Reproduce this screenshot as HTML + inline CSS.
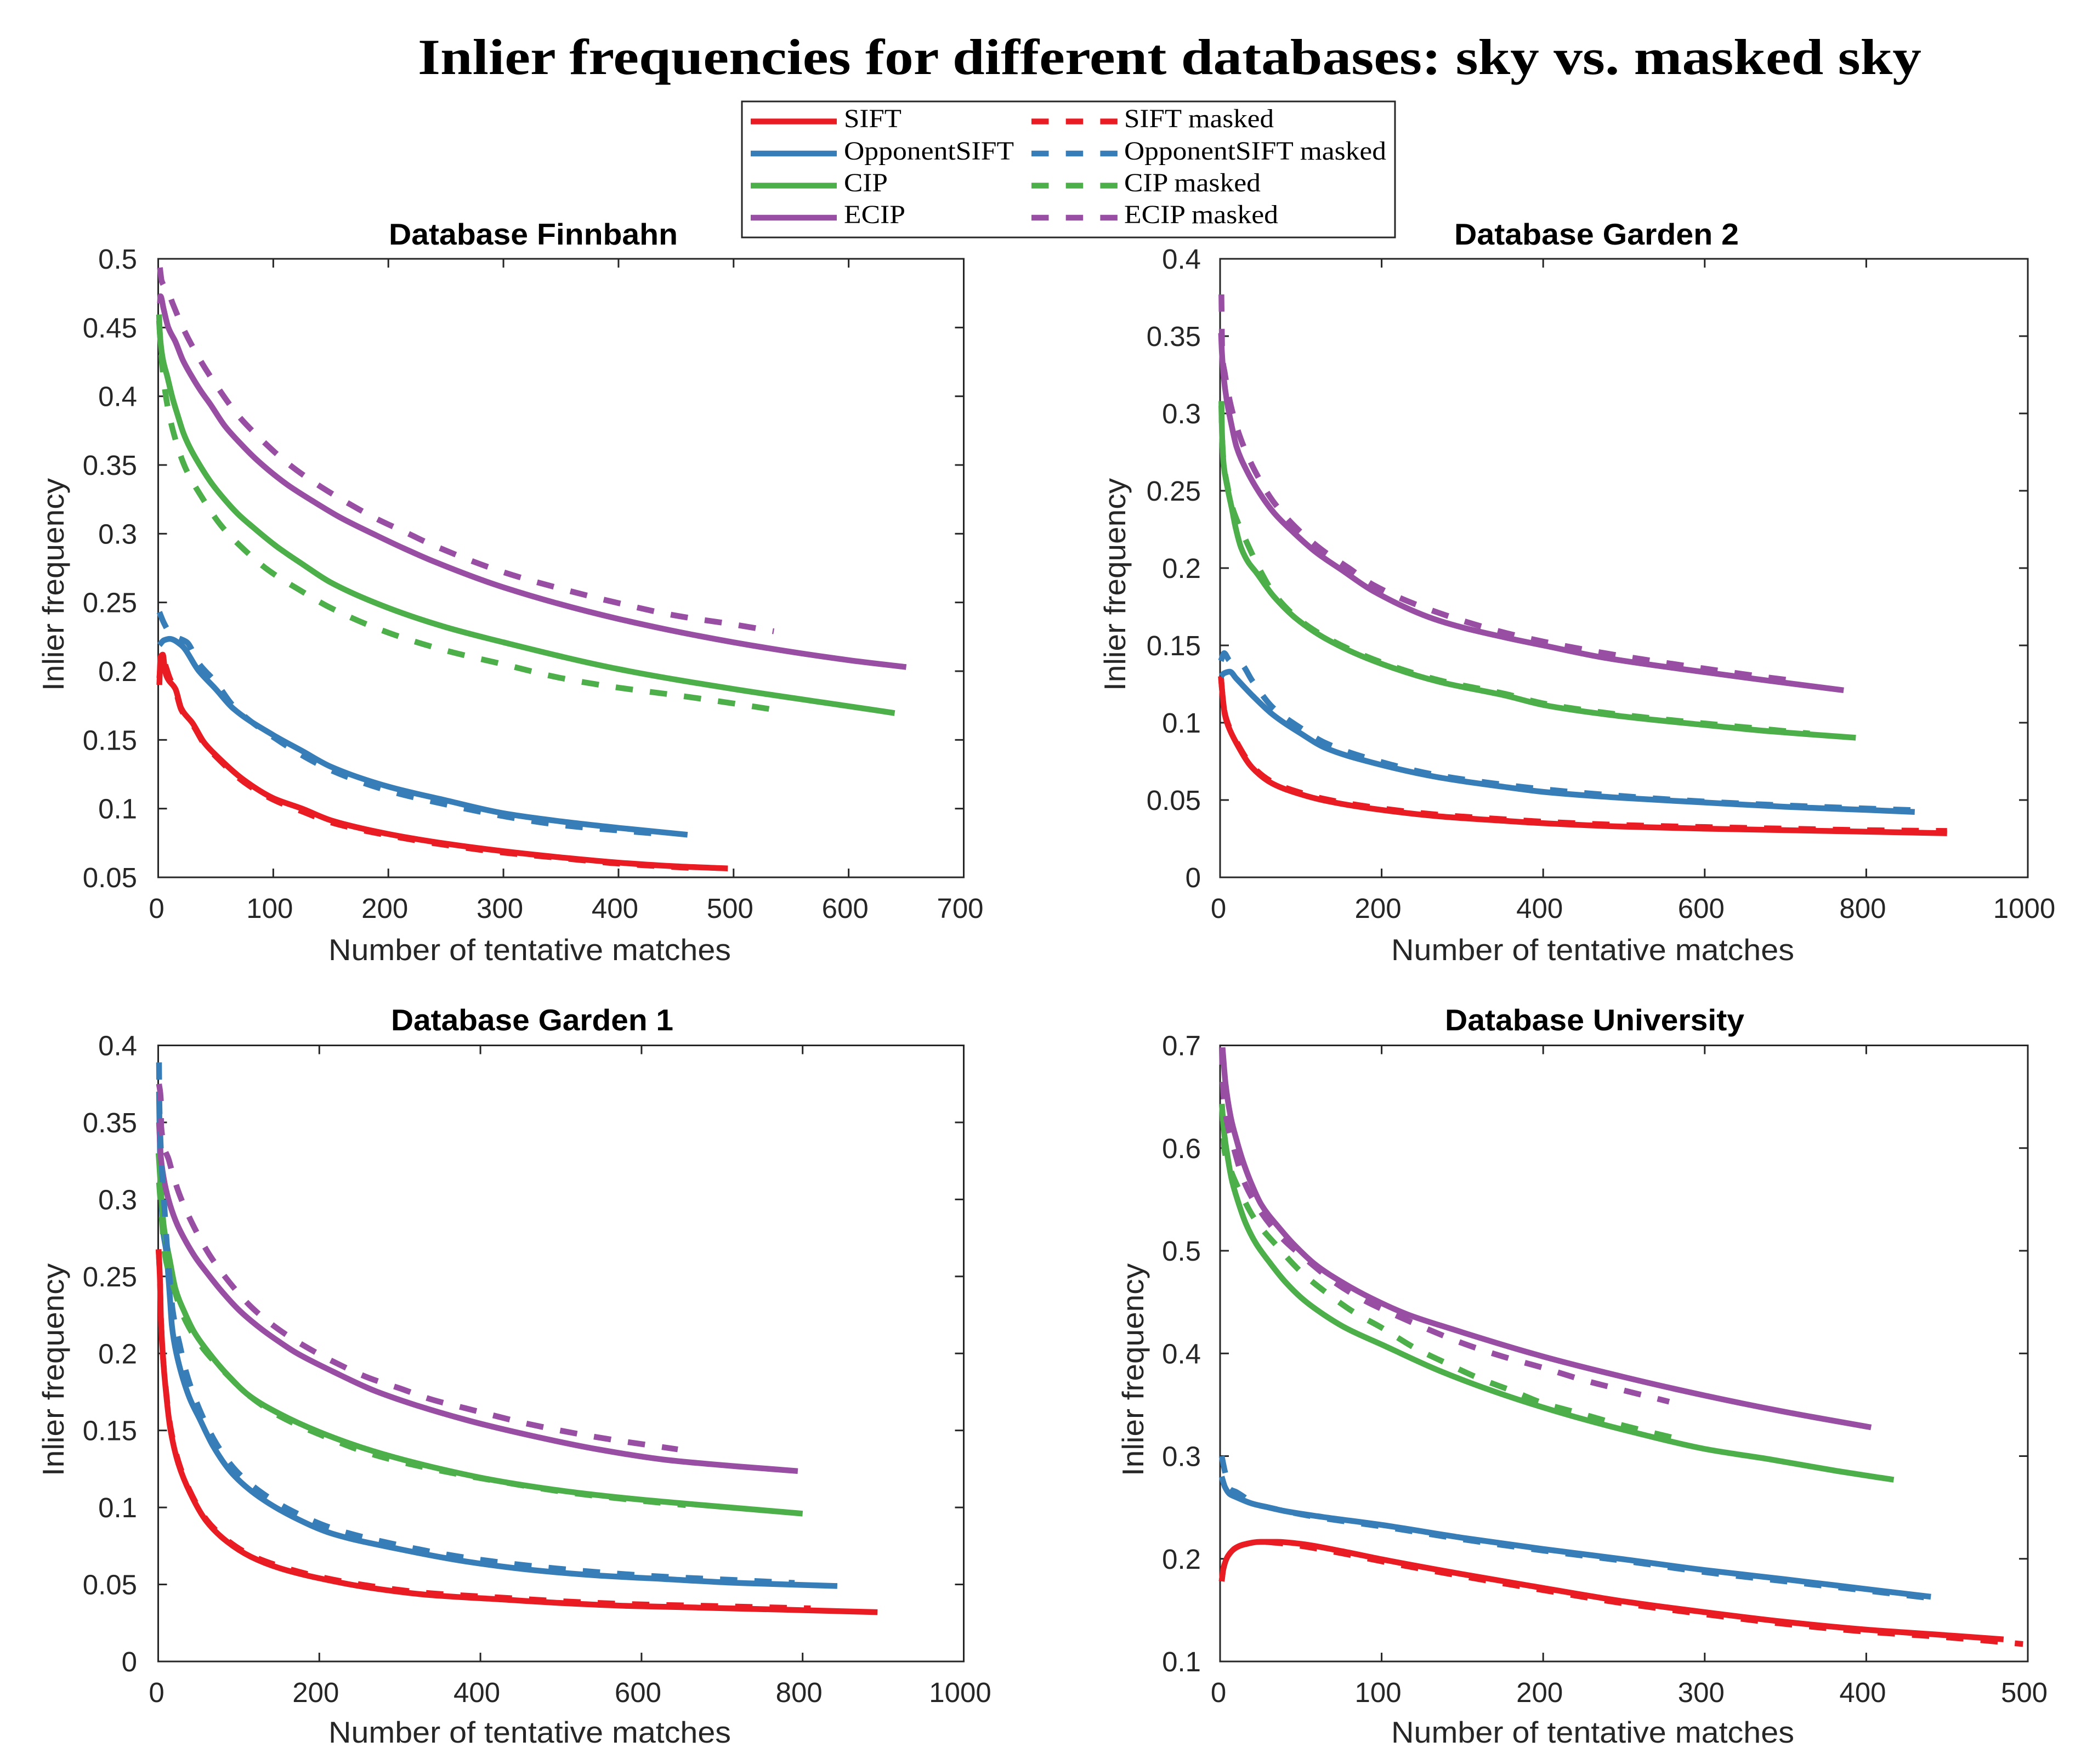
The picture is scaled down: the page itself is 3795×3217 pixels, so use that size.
<!DOCTYPE html>
<html>
<head>
<meta charset="utf-8">
<title>Inlier frequencies for different databases</title>
<style>
html,body{margin:0;padding:0;background:#fff;}
svg{display:block;}
.lab{font-family:"Liberation Sans",sans-serif;font-size:55px;fill:#262626;}
.ttl{font-family:"Liberation Sans",sans-serif;font-size:55px;font-weight:bold;fill:#000;}
.tick{font-family:"Liberation Sans",sans-serif;font-size:51px;fill:#262626;}
.leg{font-family:"Liberation Serif",serif;font-size:48px;fill:#000;}
</style>
</head>
<body>
<svg id="figure" xmlns="http://www.w3.org/2000/svg" width="3795" height="3217" viewBox="0 0 3795 3217">
<rect x="0" y="0" width="3795" height="3217" fill="#ffffff"/>
<text x="762" y="135" textLength="2742" lengthAdjust="spacingAndGlyphs" style="font-family:'Liberation Serif',serif;font-weight:bold;font-size:92px;fill:#000">Inlier frequencies for different databases: sky vs. masked sky</text>

<g>
<text class="ttl" x="709" y="446" textLength="527" lengthAdjust="spacingAndGlyphs">Database Finnbahn</text>
<text class="lab" x="599" y="1751" textLength="734" lengthAdjust="spacingAndGlyphs">Number of tentative matches</text>
<text class="lab" transform="translate(116,1260) rotate(-90)" textLength="388" lengthAdjust="spacingAndGlyphs">Inlier frequency</text>
</g>
<g>
<text class="ttl" x="2652" y="446" textLength="519" lengthAdjust="spacingAndGlyphs">Database Garden 2</text>
<text class="lab" x="2537" y="1751" textLength="735" lengthAdjust="spacingAndGlyphs">Number of tentative matches</text>
<text class="lab" transform="translate(2052,1260) rotate(-90)" textLength="388" lengthAdjust="spacingAndGlyphs">Inlier frequency</text>
</g>
<g>
<text class="ttl" x="713" y="1879" textLength="515" lengthAdjust="spacingAndGlyphs">Database Garden 1</text>
<text class="lab" x="599" y="3178" textLength="734" lengthAdjust="spacingAndGlyphs">Number of tentative matches</text>
<text class="lab" transform="translate(116,2692) rotate(-90)" textLength="388" lengthAdjust="spacingAndGlyphs">Inlier frequency</text>
</g>
<g>
<text class="ttl" x="2635" y="1879" textLength="546" lengthAdjust="spacingAndGlyphs">Database University</text>
<text class="lab" x="2537" y="3178" textLength="735" lengthAdjust="spacingAndGlyphs">Number of tentative matches</text>
<text class="lab" transform="translate(2085,2692) rotate(-90)" textLength="388" lengthAdjust="spacingAndGlyphs">Inlier frequency</text>
</g>

<g id="plots"></g>

<g>
<rect x="1353" y="185" width="1191" height="248" fill="#ffffff" stroke="#262626" stroke-width="3"/>
<line x1="1369" x2="1526" y1="221.5" y2="221.5" stroke="#e81c22" stroke-width="10.5"/>
<line x1="1369" x2="1526" y1="280" y2="280" stroke="#377eb8" stroke-width="10.5"/>
<line x1="1369" x2="1526" y1="338.5" y2="338.5" stroke="#4daf4a" stroke-width="10.5"/>
<line x1="1369" x2="1526" y1="397" y2="397" stroke="#984ea3" stroke-width="10.5"/>
<line x1="1881" x2="2038" y1="221.5" y2="221.5" stroke="#e81c22" stroke-width="10.5" stroke-dasharray="31.5 31.2"/>
<line x1="1881" x2="2038" y1="280" y2="280" stroke="#377eb8" stroke-width="10.5" stroke-dasharray="31.5 31.2"/>
<line x1="1881" x2="2038" y1="338.5" y2="338.5" stroke="#4daf4a" stroke-width="10.5" stroke-dasharray="31.5 31.2"/>
<line x1="1881" x2="2038" y1="397" y2="397" stroke="#984ea3" stroke-width="10.5" stroke-dasharray="31.5 31.2"/>
<text class="leg" x="1539" y="232" textLength="105" lengthAdjust="spacingAndGlyphs">SIFT</text>
<text class="leg" x="1539" y="291" textLength="310" lengthAdjust="spacingAndGlyphs">OpponentSIFT</text>
<text class="leg" x="1539" y="349" textLength="80" lengthAdjust="spacingAndGlyphs">CIP</text>
<text class="leg" x="1539" y="407" textLength="112" lengthAdjust="spacingAndGlyphs">ECIP</text>
<text class="leg" x="2050" y="232" textLength="273" lengthAdjust="spacingAndGlyphs">SIFT masked</text>
<text class="leg" x="2050" y="291" textLength="478" lengthAdjust="spacingAndGlyphs">OpponentSIFT masked</text>
<text class="leg" x="2050" y="349" textLength="249" lengthAdjust="spacingAndGlyphs">CIP masked</text>
<text class="leg" x="2050" y="407" textLength="281" lengthAdjust="spacingAndGlyphs">ECIP masked</text>
</g>
</svg>

<script>
// ---------- Finnbahn ----------
const finnXTicks = [0,100,200,300,400,500,600,700];
const finnYTicks = [0.05,0.1,0.15,0.2,0.25,0.3,0.35,0.4,0.45,0.5];
const finnSiftX = [1,2,4,6,8,15,20,30,40,50,75,100,125,150,200,250,300,350,400,450,495];
const finnSiftY = [0.19,0.21,0.212,0.2,0.195,0.187,0.173,0.162,0.148,0.139,0.1205,0.1076,0.1,0.0915,0.0815,0.0745,0.069,0.0645,0.0607,0.058,0.0565];
const finnOppX = [1,5,10,20,35,50,65,100,125,150,200,250,300,350,400,460];
const finnOppY = [0.219,0.2225,0.2235,0.219,0.2005,0.187,0.173,0.1535,0.142,0.1305,0.116,0.106,0.0966,0.0907,0.086,0.081];
const finnCipX = [0.7,1.5,3.9,7.9,12.6,17.4,22,27.7,35.7,46,54.7,69,81.7,102,126,150,200,250,300,400,500,600,640];
const finnCipY = [0.4595,0.4449,0.4276,0.4143,0.3983,0.385,0.373,0.3624,0.3505,0.3372,0.3279,0.3146,0.3052,0.2913,0.2775,0.2645,0.246,0.232,0.221,0.2015,0.187,0.1745,0.1695];
const finnEcipX = [1.5,2,4.7,8.7,15,21.4,29.3,37.2,45.2,57.9,70.6,86.5,112,134,158,190,213.6,239,300,400,500,600,650];
const finnEcipY = [0.4675,0.4728,0.4635,0.4502,0.4396,0.4263,0.4143,0.4037,0.3943,0.3784,0.3664,0.3531,0.3358,0.3239,0.3119,0.2986,0.2893,0.28,0.261,0.238,0.221,0.208,0.203];
const finnSiftMX = [1,3,6,10,15,20,30,40,50,75,100,125,150,200,250,300,350,400,470];
const finnSiftMY = [0.195,0.212,0.205,0.195,0.186,0.172,0.161,0.147,0.138,0.119,0.1065,0.098,0.09,0.0805,0.0735,0.068,0.064,0.06,0.0565];
const finnOppMX = [1,5,10,15,25,35,50,65,100,150,200,250,300,350,430];
const finnOppMY = [0.243,0.235,0.228,0.225,0.221,0.206,0.192,0.175,0.152,0.128,0.113,0.103,0.0945,0.088,0.082];
const finnCipMX = [0.7,3.6,7.5,13.9,23.7,38,54.7,75.4,96,125,150,200,250,300,350,400,450,500,535];
const finnCipMY = [0.455,0.421,0.3957,0.3717,0.3478,0.3265,0.3059,0.2879,0.2733,0.258,0.246,0.228,0.215,0.205,0.195,0.188,0.1825,0.1765,0.172];
const finnEcipMX = [1.5,3,8.7,12.6,22,35.6,52.3,69.8,90.5,112.7,137,163,189,216,236.5,300,350,400,450,500,535];
const finnEcipMY = [0.4936,0.484,0.4761,0.4675,0.4489,0.4276,0.4057,0.3857,0.3678,0.3511,0.3365,0.3232,0.3112,0.3006,0.2925,0.272,0.26,0.2495,0.2404,0.234,0.229];

// ---------- Garden 2 ----------
const g2XTicks = [0,200,400,600,800,1000];
const g2YTicks = [0,0.05,0.1,0.15,0.2,0.25,0.3,0.35,0.4];
const g2SiftX = [1,3,6,10,20,40,65,100,130,190,270,350,400,500,600,700,800,900];
const g2SiftY = [0.13,0.118,0.105,0.098,0.087,0.0708,0.0606,0.0537,0.0496,0.0443,0.0395,0.0366,0.035,0.0328,0.0315,0.0305,0.0295,0.0285];
const g2OppX = [1,5,12,20,40,65,100,130,190,270,350,400,500,600,700,800,860];
const g2OppY = [0.13,0.132,0.133,0.1286,0.1176,0.1054,0.093,0.0838,0.074,0.0647,0.0586,0.0553,0.0513,0.0484,0.0456,0.0436,0.0423];
const g2CipX = [1.6,2.3,4.5,9,14.7,19.2,26,35,44,66,95,132,190,271,354,400,476,600,682,787];
const g2CipY = [0.308,0.288,0.2666,0.2523,0.2381,0.2262,0.2132,0.2037,0.1977,0.182,0.167,0.154,0.14,0.1265,0.1175,0.1115,0.1055,0.0985,0.0944,0.0903];
const g2EcipX = [1.2,2.3,4.5,8,13.6,20.4,33,48.6,66.8,91.6,118.8,150,190,271,354,400,476,600,682,772];
const g2EcipY = [0.352,0.339,0.3236,0.3093,0.294,0.2784,0.263,0.2488,0.2357,0.2227,0.2102,0.199,0.185,0.166,0.155,0.15,0.142,0.1327,0.127,0.121];
const g2SiftMX = [1,3,6,10,20,40,65,100,130,190,270,350,400,500,600,700,800,900];
const g2SiftMY = [0.13,0.118,0.106,0.099,0.088,0.0718,0.0616,0.0547,0.0506,0.0453,0.0405,0.0376,0.036,0.0338,0.0325,0.0315,0.0305,0.03];
const g2OppMX = [1,5,12,25,40,65,100,130,190,270,350,400,500,600,700,800,855];
const g2OppMY = [0.14,0.145,0.14,0.1385,0.127,0.11,0.0965,0.087,0.076,0.066,0.06,0.057,0.0525,0.049,0.0465,0.0445,0.0435];
const g2CipMX = [1.6,2.3,4.5,9,14.7,20.4,34,48.6,66,95,132,190,271,354,400,476,600,682,730];
const g2CipMY = [0.305,0.288,0.268,0.2535,0.24,0.2316,0.2155,0.1995,0.184,0.168,0.155,0.141,0.1275,0.1185,0.1125,0.1065,0.0995,0.0955,0.093];
const g2EcipMX = [1.6,2.7,5.7,13.6,26,43,64.5,92.8,125.6,159.5,190,271,354,400,476,600,682,720];
const g2EcipMY = [0.377,0.338,0.3265,0.3046,0.283,0.263,0.244,0.2268,0.212,0.2,0.189,0.171,0.158,0.1525,0.145,0.135,0.129,0.1265];

// ---------- Garden 1 ----------
const g1XTicks = [0,200,400,600,800,1000];
const g1YTicks = [0,0.05,0.1,0.15,0.2,0.25,0.3,0.35,0.4];
const g1SiftX = [0.5,2.2,3.3,5.6,8,15,25,40,60,85,115,150,200,266,340,422,505,587,670,800,893];
const g1SiftY = [0.2676,0.248,0.224,0.2005,0.184,0.1514,0.1285,0.109,0.091,0.078,0.068,0.0607,0.054,0.0476,0.043,0.0404,0.0378,0.036,0.035,0.0333,0.032];
const g1OppX = [1,2.2,4,6,10,14.6,17,22.6,39,51,68,92,125,167,216,299,381,464,546,629,711,843];
const g1OppY = [0.37,0.331,0.3,0.28,0.266,0.236,0.218,0.2,0.171,0.158,0.14,0.122,0.107,0.094,0.083,0.073,0.065,0.0594,0.0558,0.0535,0.0512,0.049];
const g1CipX = [0.5,3.3,6.7,14.6,21.4,32.8,45,64.6,84,113,150,200,266,340,422,505,587,670,800];
const g1CipY = [0.33,0.307,0.2836,0.26,0.242,0.2266,0.2136,0.1993,0.1873,0.1726,0.161,0.149,0.1367,0.1263,0.1172,0.1106,0.1057,0.1018,0.096];
const g1EcipX = [1,3.3,7.8,14.6,23.7,34,46.4,60,78,101,128,155,171,216,270,381,464,546,629,711,794];
const g1EcipY = [0.35,0.3275,0.311,0.2967,0.2836,0.273,0.2622,0.2527,0.2409,0.2278,0.2159,0.2059,0.2005,0.1885,0.1755,0.157,0.1465,0.1377,0.131,0.127,0.1236];
const g1SiftMX = [0.5,2.2,3.3,5.6,8,15,25,40,60,85,115,150,200,266,340,422,505,587,670,810];
const g1SiftMY = [0.2676,0.248,0.224,0.2005,0.185,0.153,0.13,0.11,0.092,0.079,0.069,0.062,0.055,0.0488,0.0442,0.0416,0.039,0.0372,0.0362,0.0345];
const g1OppMX = [1,1.5,2.8,5,7.8,10.6,14.6,18,27,35,51,72,97,130,167,216,299,381,464,546,629,711,790];
const g1OppMY = [0.389,0.362,0.339,0.316,0.294,0.272,0.247,0.228,0.205,0.1873,0.164,0.1416,0.1237,0.109,0.0975,0.0865,0.0755,0.0675,0.062,0.058,0.055,0.053,0.051];
const g1CipMX = [1,4.4,7.8,18,31.7,53,84,113,150,200,266,340,422,505,587,655];
const g1CipMY = [0.311,0.288,0.2658,0.245,0.2237,0.205,0.187,0.1725,0.1595,0.1475,0.1345,0.125,0.117,0.11,0.105,0.1015];
const g1EcipMX = [1,3.3,3.7,13.5,26,42.5,63,88.4,116.7,150,186,220,262,299,340,381,464,546,645];
const g1EcipMY = [0.375,0.3643,0.3477,0.3252,0.3038,0.2842,0.2646,0.2462,0.2296,0.2154,0.2035,0.194,0.184,0.1775,0.17,0.1645,0.1537,0.1455,0.1377];

// ---------- University ----------
const uniXTicks = [0,100,200,300,400,500];
const uniYTicks = [0.1,0.2,0.3,0.4,0.5,0.6,0.7];
const uniSiftX = [1,2,5,10,15,25,35,50,75,100,150,200,250,300,350,400,450,485];
const uniSiftY = [0.178,0.19,0.203,0.211,0.214,0.2165,0.2165,0.2145,0.2075,0.1995,0.185,0.1715,0.1585,0.148,0.1385,0.131,0.1255,0.1215];
const uniOppX = [1,3,6,10,20,30,40,60,100,150,200,250,300,350,400,440];
const uniOppY = [0.28,0.27,0.263,0.26,0.2537,0.25,0.2465,0.2415,0.233,0.2205,0.2095,0.1995,0.189,0.18,0.1705,0.163];
const uniCipX = [1.1,2.3,4.5,7.4,10.7,15.8,22,30,40.2,51.5,64,77.5,101,136,177,218,259,300,341,382,417];
const uniCipY = [0.643,0.618,0.593,0.568,0.55,0.527,0.5077,0.49,0.47,0.4525,0.438,0.425,0.408,0.383,0.359,0.339,0.322,0.307,0.2967,0.2855,0.277];
const uniEcipX = [1.5,3.4,6.8,10,14,18.7,25.5,36.8,45.8,59.4,76.4,93.3,116,143,200,250,300,350,403];
const uniEcipY = [0.698,0.6625,0.6287,0.609,0.588,0.568,0.545,0.522,0.506,0.486,0.4685,0.454,0.438,0.424,0.397,0.377,0.359,0.343,0.328];
const uniSiftMX = [1,2,5,10,15,25,35,50,75,100,150,200,250,300,350,400,450,497];
const uniSiftMY = [0.178,0.19,0.203,0.211,0.214,0.2165,0.2155,0.2125,0.2055,0.1975,0.183,0.1695,0.1565,0.146,0.1365,0.129,0.1235,0.117];
const uniOppMX = [1,3,6,10,15,20,30,60,100,150,200,250,300,350,400,438];
const uniOppMY = [0.3,0.285,0.268,0.265,0.26,0.254,0.25,0.2405,0.2315,0.219,0.208,0.198,0.187,0.178,0.169,0.162];
const uniCipMX = [1.1,1.7,2.8,5.7,11.9,21.8,35.6,50.4,66.8,84,99,121,140,160,181,201,222,242,263,283];
const uniCipMY = [0.643,0.627,0.597,0.582,0.559,0.53,0.504,0.479,0.458,0.439,0.426,0.405,0.3905,0.376,0.3635,0.351,0.342,0.333,0.3245,0.317];
const uniEcipMX = [1.1,1.5,3.4,8.5,14.7,24.3,37.9,53.7,71.6,90,109,129.5,150,175,200,225,250,278];
const uniEcipMY = [0.698,0.668,0.634,0.6,0.568,0.54,0.513,0.491,0.4685,0.451,0.437,0.423,0.41,0.397,0.386,0.374,0.364,0.353];

const SVGNS = 'http://www.w3.org/2000/svg';
const plots = document.getElementById('plots');
const RED = '#e81c22', BLUE = '#377eb8', GREEN = '#4daf4a', PURPLE = '#984ea3';

function make(tag, parent) {
  const el = document.createElementNS(SVGNS, tag);
  parent.appendChild(el);
  return el;
}

// Monotone cubic path through screen-space points (x strictly increasing).
function smoothPath(px, py) {
  const n = px.length;
  const d = [], m = [];
  for (let i = 0; i < n - 1; i++) d.push((py[i + 1] - py[i]) / Math.max(px[i + 1] - px[i], 1e-6));
  m.push(d[0]);
  for (let i = 1; i < n - 1; i++) {
    if (d[i - 1] * d[i] <= 0) { m.push(0); continue; }
    const h0 = px[i] - px[i - 1], h1 = px[i + 1] - px[i];
    const w1 = 2 * h1 + h0, w2 = h1 + 2 * h0;
    m.push((w1 + w2) / (w1 / d[i - 1] + w2 / d[i]));
  }
  m.push(d[n - 2]);
  let out = 'M' + px[0].toFixed(1) + ' ' + py[0].toFixed(1);
  for (let i = 0; i < n - 1; i++) {
    const h = (px[i + 1] - px[i]) / 3;
    out += 'C' + (px[i] + h).toFixed(2) + ' ' + (py[i] + m[i] * h).toFixed(2) + ' ' +
      (px[i + 1] - h).toFixed(2) + ' ' + (py[i + 1] - m[i + 1] * h).toFixed(2) + ' ' +
      px[i + 1].toFixed(1) + ' ' + py[i + 1].toFixed(1);
  }
  return out;
}

function drawAxes(slug, box, xDomain, yDomain, xTicks, yTicks, labelRight, xLabelBase, series) {
  const xScale = v => box.l + (v - xDomain[0]) / (xDomain[1] - xDomain[0]) * (box.r - box.l);
  const yScale = v => box.b - (v - yDomain[0]) / (yDomain[1] - yDomain[0]) * (box.b - box.t);

  const g = make('g', plots);
  
  

  const frame = make('rect', g);
  
  
  frame.setAttribute('x', box.l);
  frame.setAttribute('y', box.t);
  frame.setAttribute('width', box.r - box.l);
  frame.setAttribute('height', box.b - box.t);
  frame.setAttribute('fill', 'none');
  frame.setAttribute('stroke', '#262626');
  frame.setAttribute('stroke-width', '3');

  const tickLen = 16;
  xTicks.forEach(v => {
    const x = xScale(v);
    [[box.b, box.b - tickLen], [box.t, box.t + tickLen]].forEach(p => {
      const t = make('line', g);
      
      
      t.setAttribute('x1', x); t.setAttribute('x2', x);
      t.setAttribute('y1', p[0]); t.setAttribute('y2', p[1]);
      t.setAttribute('stroke', '#262626');
      t.setAttribute('stroke-width', '3');
    });
    const label = make('text', g);
    
    
    label.setAttribute('class', 'tick');
    label.setAttribute('text-anchor', 'middle');
    const s = String(v);
    label.setAttribute('x', x - (s.length === 1 ? 3 : 6.5));
    label.setAttribute('y', xLabelBase);
    label.textContent = s;
  });
  yTicks.forEach(v => {
    const y = yScale(v);
    [[box.l, box.l + tickLen], [box.r, box.r - tickLen]].forEach(p => {
      const t = make('line', g);
      
      
      t.setAttribute('x1', p[0]); t.setAttribute('x2', p[1]);
      t.setAttribute('y1', y); t.setAttribute('y2', y);
      t.setAttribute('stroke', '#262626');
      t.setAttribute('stroke-width', '3');
    });
    const label = make('text', g);
    
    
    label.setAttribute('class', 'tick');
    label.setAttribute('text-anchor', 'end');
    label.setAttribute('x', labelRight);
    label.setAttribute('y', y + 18);
    label.textContent = String(v);
  });

  series.forEach(s => {
    const line = make('path', g);
    
    
    line.setAttribute('fill', 'none');
    line.setAttribute('stroke', s.color);
    line.setAttribute('stroke-width', '10.5');
    line.setAttribute('stroke-linejoin', 'round');
    if (s.dash) line.setAttribute('stroke-dasharray', '31.5 31.2');
    line.setAttribute('d', smoothPath(s.x.map(xScale), s.y.map(yScale)));
  });
}

drawAxes('finnbahn', {l:288.5,r:1757.5,t:472,b:1600}, [0,700], [0.05,0.5], finnXTicks, finnYTicks, 250, 1674, [
  {name:'sift', color:RED, x:finnSiftX, y:finnSiftY},
  {name:'opponentsift', color:BLUE, x:finnOppX, y:finnOppY},
  {name:'cip', color:GREEN, x:finnCipX, y:finnCipY},
  {name:'ecip', color:PURPLE, x:finnEcipX, y:finnEcipY},
  {name:'sift-masked', color:RED, dash:true, x:finnSiftMX, y:finnSiftMY},
  {name:'opponentsift-masked', color:BLUE, dash:true, x:finnOppMX, y:finnOppMY},
  {name:'cip-masked', color:GREEN, dash:true, x:finnCipMX, y:finnCipMY},
  {name:'ecip-masked', color:PURPLE, dash:true, x:finnEcipMX, y:finnEcipMY}
]);
drawAxes('garden-2', {l:2225,r:3698,t:472,b:1600}, [0,1000], [0,0.4], g2XTicks, g2YTicks, 2190, 1674, [
  {name:'sift-masked', color:RED, dash:true, x:g2SiftMX, y:g2SiftMY},
  {name:'opponentsift-masked', color:BLUE, dash:true, x:g2OppMX, y:g2OppMY},
  {name:'cip-masked', color:GREEN, dash:true, x:g2CipMX, y:g2CipMY},
  {name:'ecip-masked', color:PURPLE, dash:true, x:g2EcipMX, y:g2EcipMY},
  {name:'sift', color:RED, x:g2SiftX, y:g2SiftY},
  {name:'opponentsift', color:BLUE, x:g2OppX, y:g2OppY},
  {name:'cip', color:GREEN, x:g2CipX, y:g2CipY},
  {name:'ecip', color:PURPLE, x:g2EcipX, y:g2EcipY}
]);
drawAxes('garden-1', {l:288.5,r:1757.5,t:1906.5,b:3030}, [0,1000], [0,0.4], g1XTicks, g1YTicks, 250, 3104, [
  {name:'sift', color:RED, x:g1SiftX, y:g1SiftY},
  {name:'opponentsift', color:BLUE, x:g1OppX, y:g1OppY},
  {name:'cip', color:GREEN, x:g1CipX, y:g1CipY},
  {name:'ecip', color:PURPLE, x:g1EcipX, y:g1EcipY},
  {name:'sift-masked', color:RED, dash:true, x:g1SiftMX, y:g1SiftMY},
  {name:'opponentsift-masked', color:BLUE, dash:true, x:g1OppMX, y:g1OppMY},
  {name:'cip-masked', color:GREEN, dash:true, x:g1CipMX, y:g1CipMY},
  {name:'ecip-masked', color:PURPLE, dash:true, x:g1EcipMX, y:g1EcipMY}
]);
drawAxes('university', {l:2225,r:3698,t:1906.5,b:3030}, [0,500], [0.1,0.7], uniXTicks, uniYTicks, 2190, 3104, [
  {name:'sift-masked', color:RED, dash:true, x:uniSiftMX, y:uniSiftMY},
  {name:'opponentsift-masked', color:BLUE, dash:true, x:uniOppMX, y:uniOppMY},
  {name:'cip', color:GREEN, x:uniCipX, y:uniCipY},
  {name:'ecip', color:PURPLE, x:uniEcipX, y:uniEcipY},
  {name:'sift', color:RED, x:uniSiftX, y:uniSiftY},
  {name:'opponentsift', color:BLUE, x:uniOppX, y:uniOppY},
  {name:'cip-masked', color:GREEN, dash:true, x:uniCipMX, y:uniCipMY},
  {name:'ecip-masked', color:PURPLE, dash:true, x:uniEcipMX, y:uniEcipMY}
]);
</script>
</body>
</html>
